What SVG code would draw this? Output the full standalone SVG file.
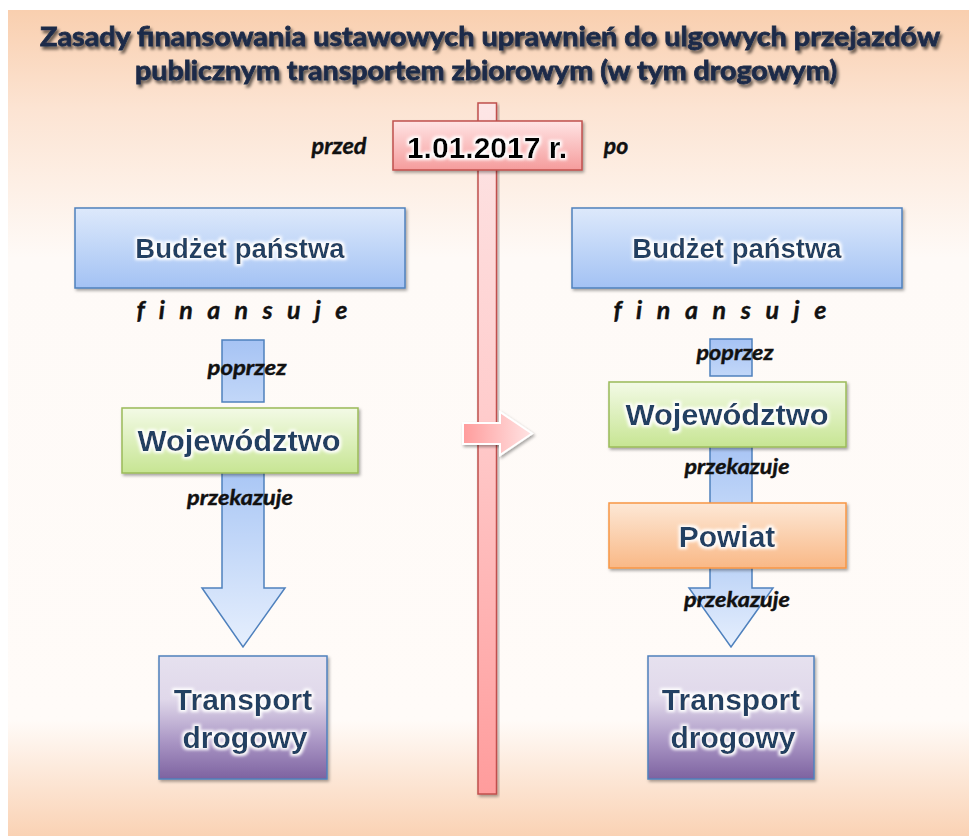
<svg xmlns="http://www.w3.org/2000/svg" width="969" height="836" viewBox="0 0 969 836">
<defs>
<linearGradient id="bg" x1="0" y1="0" x2="0" y2="1">
<stop offset="0" stop-color="#f9cfaf"/>
<stop offset="0.12" stop-color="#fce4d3"/>
<stop offset="0.3" stop-color="#fefaf7"/>
<stop offset="0.86" stop-color="#fffbf8"/>
<stop offset="1" stop-color="#fad2b4"/>
</linearGradient>
<linearGradient id="gBlue" x1="0" y1="0" x2="0" y2="1">
<stop offset="0" stop-color="#dde9fb"/>
<stop offset="1" stop-color="#a3c2f4"/>
</linearGradient>
<linearGradient id="gGreen" x1="0" y1="0" x2="0" y2="1">
<stop offset="0" stop-color="#f3fae6"/>
<stop offset="1" stop-color="#c7e593"/>
</linearGradient>
<linearGradient id="gOrange" x1="0" y1="0" x2="0" y2="1">
<stop offset="0" stop-color="#fde8d6"/>
<stop offset="1" stop-color="#f9b886"/>
</linearGradient>
<linearGradient id="gPurple" x1="0" y1="0" x2="0" y2="1">
<stop offset="0" stop-color="#e6e1ef"/>
<stop offset="0.35" stop-color="#e0d8ea"/>
<stop offset="0.7" stop-color="#a995c4"/>
<stop offset="1" stop-color="#7d62a0"/>
</linearGradient>
<linearGradient id="gPink" x1="0" y1="0" x2="0" y2="1">
<stop offset="0" stop-color="#ffe4e4"/>
<stop offset="1" stop-color="#f59c9c"/>
</linearGradient>
<linearGradient id="gBar" x1="0" y1="0" x2="0" y2="1">
<stop offset="0" stop-color="#fde6e6"/>
<stop offset="0.45" stop-color="#ffcccc"/>
<stop offset="1" stop-color="#ff9c9c"/>
</linearGradient>
<linearGradient id="gArrowR" x1="0" y1="0" x2="1" y2="0">
<stop offset="0" stop-color="#ff9c9c"/>
<stop offset="1" stop-color="#ffe4e4"/>
</linearGradient>
<linearGradient id="gShaft" x1="0" y1="0" x2="0" y2="1">
<stop offset="0" stop-color="#a6c3f4"/>
<stop offset="1" stop-color="#c2d7f8"/>
</linearGradient>
<linearGradient id="gArrowL" gradientUnits="userSpaceOnUse" x1="0" y1="473" x2="0" y2="647">
<stop offset="0" stop-color="#aac7f5"/>
<stop offset="1" stop-color="#e6effd"/>
</linearGradient>
<linearGradient id="gArrowR2" gradientUnits="userSpaceOnUse" x1="0" y1="565" x2="0" y2="647">
<stop offset="0" stop-color="#bcd3f7"/>
<stop offset="1" stop-color="#e6effd"/>
</linearGradient>
<filter id="shadow" x="-10%" y="-10%" width="125%" height="130%">
<feDropShadow dx="1.5" dy="2" stdDeviation="1.8" flood-color="#000" flood-opacity="0.35"/>
</filter>
<filter id="glow" x="-10%" y="-30%" width="120%" height="160%">
<feMorphology in="SourceAlpha" operator="dilate" radius="1.6" result="d"/>
<feGaussianBlur in="d" stdDeviation="1.8" result="b"/>
<feFlood flood-color="#ffffff"/>
<feComposite in2="b" operator="in" result="w"/>
<feMerge><feMergeNode in="w"/><feMergeNode in="SourceGraphic"/></feMerge>
</filter>
<filter id="tshadow" x="-10%" y="-60%" width="120%" height="220%">
<feGaussianBlur in="SourceAlpha" stdDeviation="1.4" result="b"/>
<feOffset in="b" dx="2" dy="2.5" result="o"/>
<feFlood flood-color="#000" flood-opacity="0.6"/>
<feComposite in2="o" operator="in" result="s"/>
<feMerge><feMergeNode in="s"/><feMergeNode in="SourceGraphic"/></feMerge>
</filter>
<style>
.node{font-family:"Liberation Sans",Arial,sans-serif;font-weight:bold;fill:#233f62;text-anchor:middle;filter:url(#glow)}
.lbl{font-family:Lato,"Open Sans",sans-serif;font-weight:bold;font-style:italic;fill:#111;stroke:#111;stroke-width:0.4;text-anchor:middle}
.title{font-family:Lato,"Open Sans",sans-serif;font-weight:bold;fill:#1c2b48;stroke:#1c2b48;stroke-width:0.8;text-anchor:middle;font-size:27px}
.blueS{stroke:#4f81bd;stroke-width:1.5}
</style>
</defs>

<rect x="0" y="0" width="969" height="836" fill="#ffffff"/>
<rect x="8" y="10" width="961" height="826" fill="url(#bg)"/>

<g id="title" filter="url(#tshadow)">
<text class="title" x="490" y="46" textLength="900" lengthAdjust="spacingAndGlyphs">Zasady finansowania ustawowych uprawnień do ulgowych przejazdów</text>
<text class="title" x="486" y="80" textLength="702" lengthAdjust="spacingAndGlyphs">publicznym transportem zbiorowym (w tym drogowym)</text>
</g>

<g id="timeline">
<rect x="478" y="103" width="18.5" height="691" fill="url(#gBar)" stroke="#c0504d" stroke-width="1.5" filter="url(#shadow)"/>
</g>

<g id="connectors">
<rect x="222" y="340" width="42" height="62" fill="url(#gShaft)" class="blueS"/>
<path d="M222,470 L264,470 L264,588 L285,588 L243,647 L202,588 L222,588 Z" fill="url(#gArrowL)" class="blueS"/>
<rect x="710" y="339" width="42" height="37" fill="url(#gShaft)" class="blueS"/>
<rect x="710" y="440" width="42" height="70" fill="url(#gShaft)" class="blueS"/>
<path d="M710,560 L752,560 L752,588 L773,588 L731,647 L689,588 L710,588 Z" fill="url(#gArrowR2)" class="blueS"/>
<path d="M463,423 L500,423 L500,412 L532,433.5 L500,455 L500,444 L463,444 Z" fill="url(#gArrowR)" stroke="#ffffff" stroke-width="2" filter="url(#shadow)"/>
</g>

<g id="date">
<rect x="393" y="121" width="189" height="49" fill="url(#gPink)" stroke="#c0504d" stroke-width="1.5" filter="url(#shadow)"/>
<text x="487" y="158" font-family="Liberation Sans,Arial,sans-serif" font-weight="bold" font-size="30" fill="#000" text-anchor="middle" filter="url(#glow)">1.01.2017 r.</text>
</g>
<g id="label-przed"><text class="lbl" x="339" y="154" font-size="23" textLength="55" lengthAdjust="spacingAndGlyphs">przed</text></g>
<g id="label-po"><text class="lbl" x="616" y="154" font-size="23">po</text></g>

<g id="left-budzet">
<rect x="75" y="208" width="330" height="80" fill="url(#gBlue)" stroke="#4f81bd" stroke-width="1.5" filter="url(#shadow)"/>
<text class="node" x="240" y="258" font-size="27.5">Budżet państwa</text>
</g>
<g id="left-finansuje"><text class="lbl" x="242" y="319" font-size="25" textLength="211" lengthAdjust="spacing">f i n a n s u j e</text></g>
<g id="left-poprzez"><text class="lbl" x="247" y="375" font-size="21" textLength="79" lengthAdjust="spacingAndGlyphs">poprzez</text></g>
<g id="left-wojewodztwo">
<rect x="122" y="408" width="236" height="65" fill="url(#gGreen)" stroke="#9bbb59" stroke-width="1.5" filter="url(#shadow)"/>
<text class="node" x="239" y="451" font-size="30" textLength="203" lengthAdjust="spacingAndGlyphs">Województwo</text>
</g>
<g id="left-przekazuje"><text class="lbl" x="240" y="505" font-size="21" textLength="106" lengthAdjust="spacingAndGlyphs">przekazuje</text></g>
<g id="left-transport">
<rect x="159" y="656" width="168" height="123" fill="url(#gPurple)" stroke="#4f81bd" stroke-width="1.5" filter="url(#shadow)"/>
<text class="node" x="243" y="710" font-size="30">Transport</text>
<text class="node" x="245" y="748" font-size="30">drogowy</text>
</g>

<g id="right-budzet">
<rect x="572" y="208" width="330" height="80" fill="url(#gBlue)" stroke="#4f81bd" stroke-width="1.5" filter="url(#shadow)"/>
<text class="node" x="737" y="258" font-size="27.5">Budżet państwa</text>
</g>
<g id="right-finansuje"><text class="lbl" x="720" y="319" font-size="25" textLength="213" lengthAdjust="spacing">f i n a n s u j e</text></g>
<g id="right-poprzez"><text class="lbl" x="735" y="360" font-size="21" textLength="77" lengthAdjust="spacingAndGlyphs">poprzez</text></g>
<g id="right-wojewodztwo">
<rect x="609" y="382" width="237" height="65" fill="url(#gGreen)" stroke="#9bbb59" stroke-width="1.5" filter="url(#shadow)"/>
<text class="node" x="727" y="425" font-size="30" textLength="203" lengthAdjust="spacingAndGlyphs">Województwo</text>
</g>
<g id="right-przekazuje1"><text class="lbl" x="737" y="474" font-size="21" textLength="105" lengthAdjust="spacingAndGlyphs">przekazuje</text></g>
<g id="right-powiat">
<rect x="609" y="503" width="237" height="65" fill="url(#gOrange)" stroke="#f79646" stroke-width="1.5" filter="url(#shadow)"/>
<text class="node" x="727" y="547" font-size="30">Powiat</text>
</g>
<g id="right-przekazuje2"><text class="lbl" x="737" y="607" font-size="21" textLength="106" lengthAdjust="spacingAndGlyphs">przekazuje</text></g>
<g id="right-transport">
<rect x="648" y="656" width="166" height="123" fill="url(#gPurple)" stroke="#4f81bd" stroke-width="1.5" filter="url(#shadow)"/>
<text class="node" x="731" y="710" font-size="30">Transport</text>
<text class="node" x="733" y="748" font-size="30">drogowy</text>
</g>
</svg>
